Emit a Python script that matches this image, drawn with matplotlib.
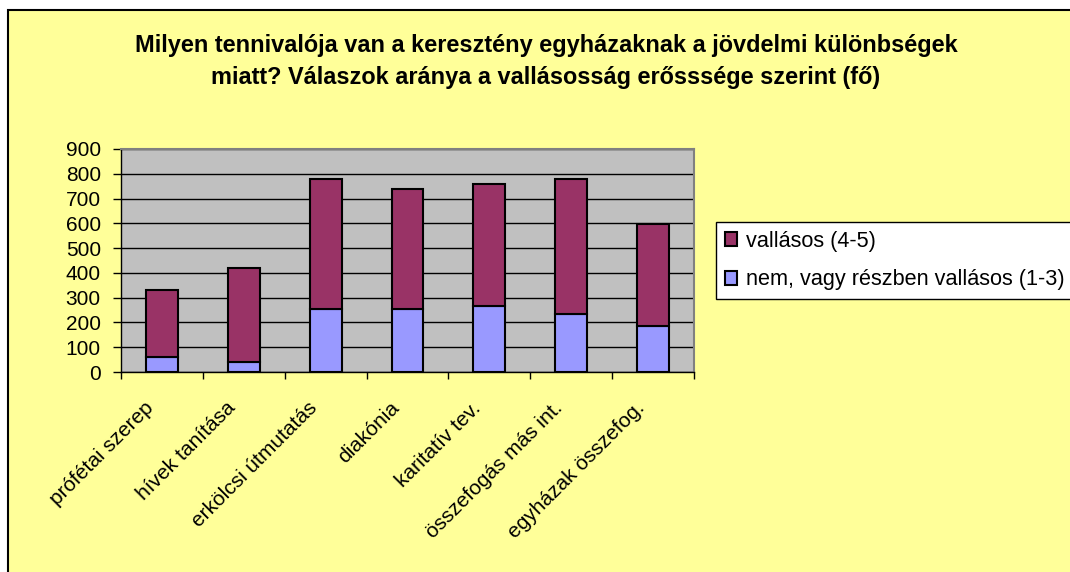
import numpy as np
import matplotlib
matplotlib.use('Agg')
import matplotlib.pyplot as plt
from matplotlib.patches import Rectangle
from matplotlib.transforms import ScaledTranslation

plt.rcParams['font.family'] = ['Liberation Sans', 'DejaVu Sans']

# Data
categories = ['prófétai szerep', 'hívek tanítása', 'erkölcsi útmutatás', 'diakónia',
              'karitatív tev.', 'összefogás más int.', 'egyházak összefog.']
nem_vallasos = [62, 39, 255, 255, 265, 234, 184]
vallasos = [267, 379, 525, 485, 494, 546, 412]
y_ticks = [0, 100, 200, 300, 400, 500, 600, 700, 800, 900]

title = ('Milyen tennivalója van a keresztény egyházaknak a jövdelmi különbségek\n'
         'miatt? Válaszok aránya a vallásosság erősssége szerint (fő)')

W, H = 1070, 572
fig = plt.figure(figsize=(W / 100, H / 100), dpi=100, facecolor='white')

# yellow chart area with black frame (left/top edges visible)
fig.patches.append(Rectangle((8 / W, -0.05), 1.1, (H - 10) / H + 0.05,
                             transform=fig.transFigure, facecolor='#FFFF99',
                             edgecolor='black', lw=1.5, zorder=-5))

ax = fig.add_axes([121 / W, 1 - 372 / H, (694 - 121) / W, 223 / H])
ax.set_facecolor('#C0C0C0')

x = np.arange(len(categories))
b1 = ax.bar(x, nem_vallasos, width=0.39, color='#9999FF', edgecolor='black', lw=1.5,
            label='nem, vagy részben vallásos (1-3)', zorder=3)
b2 = ax.bar(x, vallasos, width=0.39, bottom=nem_vallasos, color='#993366',
            edgecolor='black', lw=1.5, label='vallásos (4-5)', zorder=3)

ax.set_xlim(-0.5, len(categories) - 0.5)
ax.set_ylim(0, 900)
ax.set_yticks(y_ticks)
ax.yaxis.grid(True, color='black', lw=1)
ax.set_axisbelow(True)
ax.tick_params(axis='y', direction='out', length=6, width=1, labelsize=15, pad=8.5)

# major ticks on category boundaries, labels on minor ticks at centres
ax.set_xticks(np.arange(len(categories) + 1) - 0.5)
ax.set_xticklabels([])
ax.tick_params(axis='x', which='major', direction='out', length=5, width=1)
ax.set_xticks(x, labels=categories, minor=True)
ax.tick_params(axis='x', which='minor', length=0, pad=19, labelsize=15)
shift = ScaledTranslation(-18 / 100, 0, fig.dpi_scale_trans)
for lab in ax.get_xticklabels(minor=True):
    lab.set_rotation(45)
    lab.set_rotation_mode('anchor')
    lab.set_ha('right')
    lab.set_va('top')
    lab.set_transform(lab.get_transform() + shift)

for s in ['top', 'right']:
    ax.spines[s].set_color('#808080')
    ax.spines[s].set_linewidth(1.5)
for s in ['left', 'bottom']:
    ax.spines[s].set_color('black')
    ax.spines[s].set_linewidth(1)

fig.text(546 / W, 1 - 61.5 / H, title, ha='center', va='center', fontsize=16.9,
         fontweight='bold', linespacing=1.55)

leg = fig.legend([b2, b1], ['vallásos (4-5)', 'nem, vagy részben vallásos (1-3)'],
                 loc='upper left', bbox_to_anchor=(716 / W, 1 - 222 / H),
                 fontsize=15.6, frameon=True, fancybox=False, framealpha=1,
                 edgecolor='black', handlelength=0.58, handleheight=0.58,
                 handletextpad=0.42, borderpad=0.4, labelspacing=0.82,
                 borderaxespad=0)
leg.get_frame().set_linewidth(1)

fig.savefig('out.png', dpi=100, facecolor=fig.get_facecolor())
